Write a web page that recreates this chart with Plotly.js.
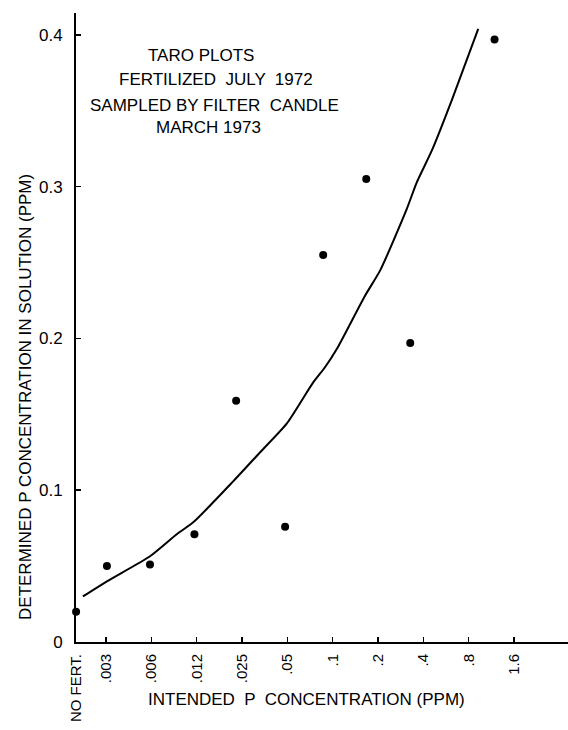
<!DOCTYPE html>
<html>
<head>
<meta charset="utf-8">
<script src="https://cdn.plot.ly/plotly-3.0.1.min.js"></script>
<style>
  html, body { margin: 0; padding: 0; background: #ffffff; }
  #chart { width: 568px; height: 730px; }
</style>
</head>
<body>
<div id="chart"></div>
<script>
// Category positions on the x axis (equally spaced, doubling concentrations)
const tickPositions = [0.34, 1, 2, 3, 4, 5, 6, 7, 8, 9, 10];
const tickLabels = ["NO FERT.", ".003", ".006", ".012", ".025", ".05", ".1", ".2", ".4", ".8", "1.6"];

// Measured points (determined P concentration, ppm)
const pointX = [0.34, 1.02, 1.97, 2.95, 3.87, 4.95, 5.79, 6.74, 7.71, 9.57];
const pointY = [0.020, 0.050, 0.051, 0.071, 0.159, 0.076, 0.255, 0.305, 0.197, 0.397];

// Fitted curve
const curveX = [0.49, 1.02, 1.97, 2.56, 2.93, 3.81, 4.40, 4.99, 5.57, 5.83, 6.09, 6.71, 7.05, 7.63, 7.85, 8.19, 8.64, 9.21];
const curveY = [0.030, 0.040, 0.0565, 0.071, 0.079, 0.106, 0.125, 0.144, 0.171, 0.181, 0.193, 0.228, 0.245, 0.285, 0.3025, 0.324, 0.358, 0.404];

const yTickVals = [0, 0.1, 0.2, 0.3, 0.4];
const yTickText = ["0", "0.1", "0.2", "0.3", "0.4"];

const xTitle = "INTENDED  P  CONCENTRATION (PPM)";
const yTitle = "DETERMINED P CONCENTRATION IN SOLUTION (PPM)";
const noteLines = ["TARO PLOTS", "FERTILIZED  JULY  1972", "SAMPLED BY FILTER  CANDLE", "MARCH 1973"];

const FONT = "Liberation Sans, Arial, sans-serif";

const traces = [
  {
    x: curveX, y: curveY, type: "scatter", mode: "lines",
    line: { color: "#000", width: 2, shape: "spline", smoothing: 0.6 },
    hoverinfo: "skip", showlegend: false
  },
  {
    x: pointX, y: pointY, type: "scatter", mode: "markers",
    marker: { color: "#000", size: 8 }, showlegend: false, cliponaxis: false
  }
];

const noteX = [0.254, 0.2846, 0.2825, 0.2703];
const noteY = [0.9332, 0.8935, 0.8537, 0.8172];
const annotations = noteLines.map((t, i) => ({
  text: t, xref: "paper", yref: "paper", x: noteX[i], y: noteY[i],
  xanchor: "center", yanchor: "middle", showarrow: false,
  font: { family: FONT, size: 17, color: "#000" }
}));
annotations.push({
  text: xTitle, xref: "paper", yref: "paper", x: 0.4695, y: -0.0922,
  xanchor: "center", yanchor: "middle", showarrow: false,
  font: { family: FONT, size: 17, color: "#000" }
});
annotations.push({
  text: yTitle, xref: "paper", yref: "paper", x: -0.1037, y: 0.3895,
  xanchor: "center", yanchor: "middle", showarrow: false, textangle: -90,
  font: { family: FONT, size: 17, color: "#000" }
});

const layout = {
  width: 568, height: 730,
  margin: { l: 76, r: 0, t: 13, b: 88 },
  paper_bgcolor: "#fff", plot_bgcolor: "#fff",
  showlegend: false,
  font: { family: FONT, size: 14, color: "#000" },
  xaxis: {
    range: [0.338, 11.19],
    tickmode: "array", tickvals: tickPositions, ticktext: tickLabels,
    tickangle: -90,
    ticks: "inside", ticklen: 5, tickwidth: 1.5, tickcolor: "#000",
    showline: true, linecolor: "#000", linewidth: 2,
    showgrid: false, zeroline: false,
    tickfont: { family: FONT, size: 15, color: "#000" },
    ticklabelstandoff: 4,
    automargin: false, fixedrange: true
  },
  yaxis: {
    range: [0, 0.4144],
    tickmode: "array", tickvals: yTickVals, ticktext: yTickText,
    ticks: "inside", ticklen: 5, tickwidth: 1.5, tickcolor: "#000",
    showline: true, linecolor: "#000", linewidth: 2,
    showgrid: false, zeroline: false,
    tickfont: { family: FONT, size: 17, color: "#000" },
    ticklabelstandoff: 8,
    automargin: false, fixedrange: true
  },
  annotations: annotations
};

Plotly.newPlot("chart", traces, layout, { displayModeBar: false, staticPlot: true });
</script>
</body>
</html>
